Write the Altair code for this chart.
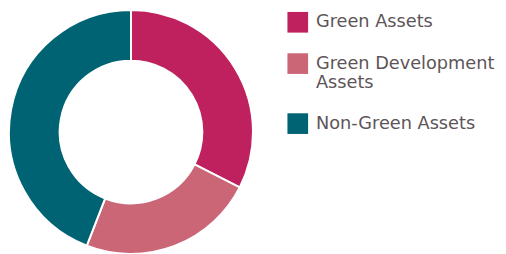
import altair as alt
import pandas as pd

categories = ["Green Assets", "Green Development Assets", "Non-Green Assets"]
shares = [32.5, 23.4, 44.1]
colors = ["#BE215E", "#CB6677", "#006373"]

df = pd.DataFrame({"category": categories, "share": shares, "order": list(range(len(categories)))})

label_expr = "datum.label == 'Green Development Assets' ? ['Green Development', 'Assets'] : datum.label"

chart = alt.Chart(df).mark_arc(
    outerRadius=124, innerRadius=72.5, stroke="white", strokeWidth=2
).encode(
    x=alt.value(125),
    y=alt.value(124),
    theta=alt.Theta("share:Q", stack=True),
    order=alt.Order("order:Q"),
    color=alt.Color(
        "category:N",
        scale=alt.Scale(domain=categories, range=colors),
        legend=alt.Legend(
            title=None,
            orient="none",
            legendX=284,
            legendY=2,
            symbolType="square",
            symbolSize=441,
            symbolStrokeWidth=0,
            labelFont="DejaVu Sans",
            labelFontSize=18,
            labelColor="#5d5457",
            labelOffset=8,
            labelLimit=300,
            rowPadding=21,
            labelExpr=label_expr,
        ),
    ),
).properties(
    width=498, height=246, padding=0, autosize=alt.AutoSizeParams(type="none")
).configure_view(stroke=None)

chart.save("out.html", embed_options={"renderer": "svg", "actions": False})
